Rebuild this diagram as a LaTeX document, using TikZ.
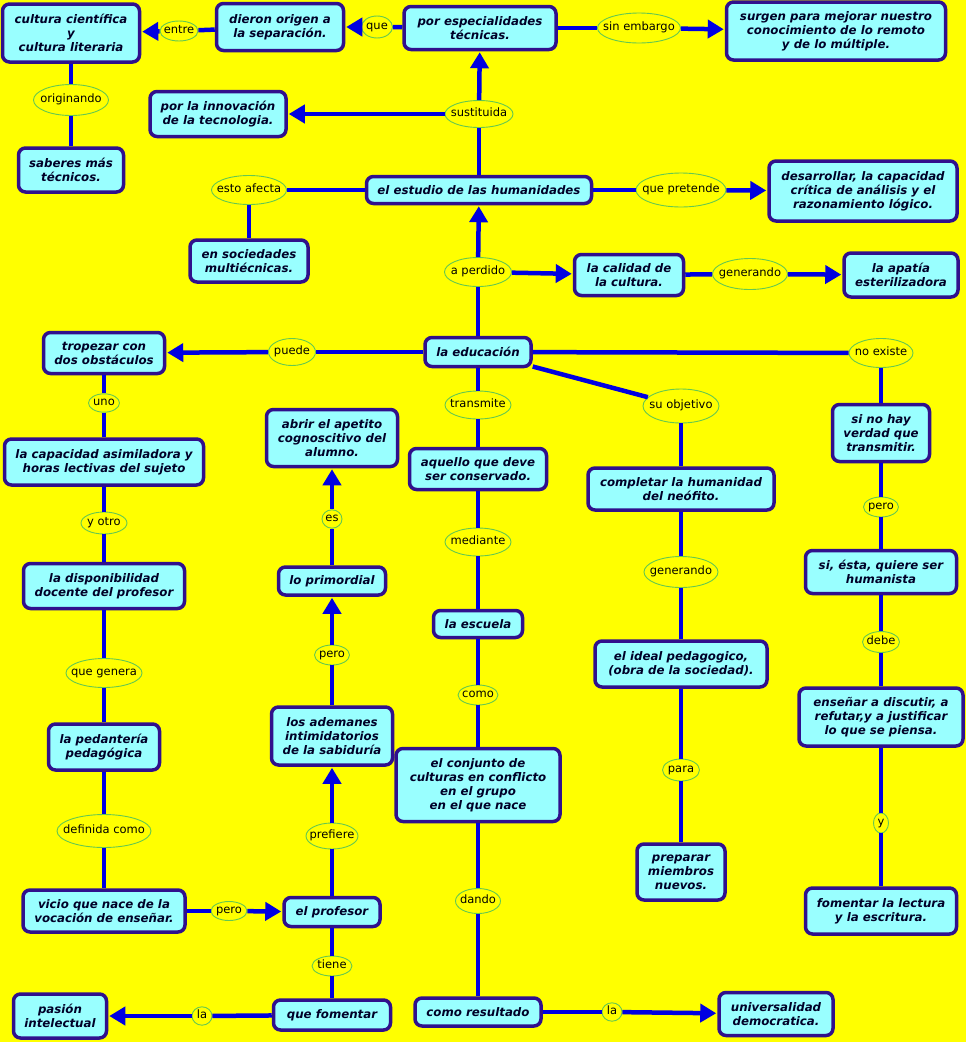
\documentclass[tikz,border=0pt]{standalone}
\usepackage{fontspec}
\setmainfont{DejaVu Sans}
\usetikzlibrary{shapes.geometric,arrows.meta}
\definecolor{bg}{RGB}{255,255,0}
\definecolor{boxf}{RGB}{153,255,255}
\definecolor{boxc}{RGB}{48,16,140}
\definecolor{connc}{RGB}{0,0,225}
\definecolor{elc}{RGB}{100,200,80}
\definecolor{txtc}{RGB}{0,0,40}
\newcommand\lt[1]{\makebox[0pt]{\strut#1}}
\tikzset{
  box/.style={draw=boxc, line width=3.5pt, fill=boxf, rounded corners=7pt, align=center,
    inner sep=0pt, text=txtc, font=\fontsize{11.8}{14}\selectfont\bfseries\itshape},
  lab/.style={ellipse, draw=elc, line width=0.9pt, fill=bg, inner sep=0pt,
    font=\fontsize{11.5}{13}\selectfont, text=black},
  conn/.style={draw=connc, line width=4.5pt},
  arr/.style={conn, -{Triangle[length=16pt,width=18pt]}, shorten >=1pt},
}
\begin{document}
\begin{tikzpicture}[x=1pt,y=-1pt]
\fill[bg] (0,0) rectangle (966,1042);
\useasboundingbox (0,0) rectangle (966,1042);
% boxes
\node[box,minimum width=137pt,minimum height=58pt] (cult) at (71,33) {cultura científica\\y\\cultura literaria};
\node[box,minimum width=127pt,minimum height=47pt] (dier) at (280,27) {dieron origen a\\la separación.};
\node[box,minimum width=152pt,minimum height=43pt] (esp) at (480,28) {por especialidades\\técnicas.};
\node[box,minimum width=219pt,minimum height=58pt] (surg) at (836,31) {surgen para mejorar nuestro\\conocimiento de lo remoto\\y de lo múltiple.};
\node[box,minimum width=136pt,minimum height=45pt] (innov) at (218,114) {por la innovación\\de la tecnologia.};
\node[box,minimum width=105pt,minimum height=44pt] (sab) at (71,170) {saberes más\\técnicos.};
\node[box,minimum width=225pt,minimum height=27pt] (est) at (479,190) {el estudio de las humanidades};
\node[box,minimum width=188pt,minimum height=60pt] (desa) at (863,191) {desarrollar, la capacidad\\crítica de análisis y el\\razonamiento lógico.};
\node[box,minimum width=118pt,minimum height=42pt] (soc) at (249,261) {en sociedades\\multiécnicas.};
\node[box,minimum width=109pt,minimum height=41pt] (cal) at (629,275) {la calidad de\\la cultura.};
\node[box,minimum width=114pt,minimum height=44pt] (apat) at (901,275) {la apatía\\esterilizadora};
\node[box,minimum width=106pt,minimum height=29pt] (edu) at (478,352) {la educación};
\node[box,minimum width=121pt,minimum height=41pt] (trop) at (104,353) {tropezar con\\dos obstáculos};
\node[box,minimum width=199pt,minimum height=46pt] (capa) at (104,462) {la capacidad asimiladora y\\horas lectivas del sujeto};
\node[box,minimum width=131pt,minimum height=57pt] (abrir) at (332,438) {abrir el apetito\\cognoscitivo del\\alumno.};
\node[box,minimum width=137pt,minimum height=41pt] (aqu) at (478,469) {aquello que deve\\ser conservado.};
\node[box,minimum width=186pt,minimum height=42pt] (comp) at (681,489) {completar la humanidad\\del neófito.};
\node[box,minimum width=97pt,minimum height=57pt] (sino) at (881,433) {si no hay\\verdad que\\transmitir.};
\node[box,minimum width=161pt,minimum height=45pt] (disp) at (104,586) {la disponibilidad\\docente del profesor};
\node[box,minimum width=107pt,minimum height=28pt] (prim) at (332,581) {lo primordial};
\node[box,minimum width=89pt,minimum height=27pt] (esc) at (478,624) {la escuela};
\node[box,minimum width=172pt,minimum height=46pt] (ideal) at (681,664) {el ideal pedagogico,\\(obra de la sociedad).};
\node[box,minimum width=151pt,minimum height=43pt] (sies) at (881,572) {si, ésta, quiere ser\\humanista};
\node[box,minimum width=111pt,minimum height=46pt] (ped) at (104,747) {la pedantería\\pedagógica};
\node[box,minimum width=121pt,minimum height=58pt] (adem) at (332,736) {los ademanes\\intimidatorios\\de la sabiduría};
\node[box,minimum width=164pt,minimum height=73pt] (conj) at (478,785) {el conjunto de\\culturas en conflicto\\en el grupo\\en el que nace};
\node[box,minimum width=164pt,minimum height=58pt] (ense) at (881,717) {enseñar a discutir, a\\refutar,y a justificar\\lo que se piensa.};
\node[box,minimum width=88pt,minimum height=56pt] (prep) at (681,872) {preparar\\miembros\\nuevos.};
\node[box,minimum width=162pt,minimum height=42pt] (vicio) at (104,911) {vicio que nace de la\\vocación de enseñar.};
\node[box,minimum width=96pt,minimum height=29pt] (prof) at (332,912) {el profesor};
\node[box,minimum width=151pt,minimum height=46pt] (fom) at (881,911) {fomentar la lectura\\y la escritura.};
\node[box,minimum width=93pt,minimum height=44pt] (pas) at (60,1016) {pasión\\intelectual};
\node[box,minimum width=117pt,minimum height=30pt] (qfom) at (332,1015) {que fomentar};
\node[box,minimum width=126pt,minimum height=28pt] (cres) at (478,1012) {como resultado};
\node[box,minimum width=114pt,minimum height=43pt] (univ) at (776,1014) {universalidad\\democratica.};
% labels
\node[lab,minimum width=38pt,minimum height=20pt] (lentre) at (179,31) {\lt{entre}};
\node[lab,minimum width=31pt,minimum height=22pt] (lque) at (377,27) {\lt{que}};
\node[lab,minimum width=83pt,minimum height=30pt] (lsin) at (639,28) {\lt{sin embargo}};
\node[lab,minimum width=75pt,minimum height=31pt] (lorig) at (71,100) {\lt{originando}};
\node[lab,minimum width=68pt,minimum height=27pt] (lsust) at (479,114) {\lt{sustituida}};
\node[lab,minimum width=75pt,minimum height=29pt] (lesto) at (249,190) {\lt{esto afecta}};
\node[lab,minimum width=90pt,minimum height=34pt] (lqpre) at (681,190) {\lt{que pretende}};
\node[lab,minimum width=67pt,minimum height=29pt] (laper) at (478,272) {\lt{a perdido}};
\node[lab,minimum width=75pt,minimum height=31pt] (lgen1) at (750,274) {\lt{generando}};
\node[lab,minimum width=47pt,minimum height=27pt] (lpue) at (292,352) {\lt{puede}};
\node[lab,minimum width=64pt,minimum height=29pt] (lnoex) at (881,353) {\lt{no existe}};
\node[lab,minimum width=66pt,minimum height=28pt] (ltrans) at (478,405) {\lt{transmite}};
\node[lab,minimum width=76pt,minimum height=34pt] (lsuob) at (681,406) {\lt{su objetivo}};
\node[lab,minimum width=31pt,minimum height=18pt] (luno) at (104,403) {\lt{uno}};
\node[lab,minimum width=20pt,minimum height=17pt] (les) at (332,519) {\lt{es}};
\node[lab,minimum width=46pt,minimum height=22pt] (lyotro) at (104,523) {\lt{y otro}};
\node[lab,minimum width=66pt,minimum height=28pt] (lmed) at (478,542) {\lt{mediante}};
\node[lab,minimum width=74pt,minimum height=31pt] (lgen2) at (681,572) {\lt{generando}};
\node[lab,minimum width=35pt,minimum height=20pt] (lpero1) at (881,507) {\lt{pero}};
\node[lab,minimum width=35pt,minimum height=20pt] (lpero2) at (332,655) {\lt{pero}};
\node[lab,minimum width=76pt,minimum height=29pt] (lqgen) at (104,673) {\lt{que genera}};
\node[lab,minimum width=37pt,minimum height=21pt] (ldebe) at (881,642) {\lt{debe}};
\node[lab,minimum width=40pt,minimum height=20pt] (lcomo) at (478,695) {\lt{como}};
\node[lab,minimum width=37pt,minimum height=22pt] (lpara) at (681,770) {\lt{para}};
\node[lab,minimum width=52pt,minimum height=26pt] (lpref) at (332,836) {\lt{prefiere}};
\node[lab,minimum width=94pt,minimum height=33pt] (ldef) at (104,831) {\lt{definida como}};
\node[lab,minimum width=15pt,minimum height=20pt] (ly) at (881,823) {\lt{y}};
\node[lab,minimum width=45pt,minimum height=25pt] (ldando) at (478,901) {\lt{dando}};
\node[lab,minimum width=36pt,minimum height=19pt] (lpero3) at (229,911) {\lt{pero}};
\node[lab,minimum width=40pt,minimum height=20pt] (ltiene) at (332,966) {\lt{tiene}};
\node[lab,minimum width=20pt,minimum height=17pt] (lla1) at (202,1016) {\lt{la}};
\node[lab,minimum width=20pt,minimum height=17pt] (lla2) at (612,1012) {\lt{la}};
% connectors
\draw[conn] (esp) -- (lque); \draw[arr] (lque) -- (dier);
\draw[conn] (dier) -- (lentre); \draw[arr] (lentre) -- (cult);
\draw[conn] (esp) -- (lsin); \draw[arr] (lsin) -- (surg);
\draw[conn] (cult) -- (lorig); \draw[conn] (lorig) -- (sab);
\draw[conn] (est) -- (lsust); \draw[arr] (lsust) -- (esp); \draw[arr] (lsust) -- (innov);
\draw[conn] (est) -- (lesto); \draw[conn] (lesto) -- (soc);
\draw[conn] (est) -- (lqpre); \draw[arr] (lqpre) -- (desa);
\draw[conn] (edu) -- (laper); \draw[arr] (laper) -- (est); \draw[arr] (laper) -- (cal);
\draw[conn] (cal) -- (lgen1); \draw[arr] (lgen1) -- (apat);
\draw[conn] (edu) -- (lpue); \draw[arr] (lpue) -- (trop);
\draw[conn] (edu) -- (lnoex); \draw[conn] (lnoex) -- (sino);
\draw[conn] (edu) -- (ltrans); \draw[conn] (ltrans) -- (aqu);
\draw[conn] (edu) -- (lsuob); \draw[conn] (lsuob) -- (comp);
\draw[conn] (trop) -- (luno); \draw[conn] (luno) -- (capa);
\draw[conn] (capa) -- (lyotro); \draw[conn] (lyotro) -- (disp);
\draw[conn] (disp) -- (lqgen); \draw[conn] (lqgen) -- (ped);
\draw[conn] (ped) -- (ldef); \draw[conn] (ldef) -- (vicio);
\draw[conn] (vicio) -- (lpero3); \draw[arr] (lpero3) -- (prof);
\draw[conn] (prof) -- (lpref); \draw[arr] (lpref) -- (adem);
\draw[conn] (adem) -- (lpero2); \draw[arr] (lpero2) -- (prim);
\draw[conn] (prim) -- (les); \draw[arr] (les) -- (abrir);
\draw[conn] (prof) -- (ltiene); \draw[conn] (ltiene) -- (qfom);
\draw[conn] (qfom) -- (lla1); \draw[arr] (lla1) -- (pas);
\draw[conn] (aqu) -- (lmed); \draw[conn] (lmed) -- (esc);
\draw[conn] (esc) -- (lcomo); \draw[conn] (lcomo) -- (conj);
\draw[conn] (conj) -- (ldando); \draw[conn] (ldando) -- (cres);
\draw[conn] (cres) -- (lla2); \draw[arr] (lla2) -- (univ);
\draw[conn] (comp) -- (lgen2); \draw[conn] (lgen2) -- (ideal);
\draw[conn] (ideal) -- (lpara); \draw[conn] (lpara) -- (prep);
\draw[conn] (sino) -- (lpero1); \draw[conn] (lpero1) -- (sies);
\draw[conn] (sies) -- (ldebe); \draw[conn] (ldebe) -- (ense);
\draw[conn] (ense) -- (ly); \draw[conn] (ly) -- (fom);
\end{tikzpicture}
\end{document}
